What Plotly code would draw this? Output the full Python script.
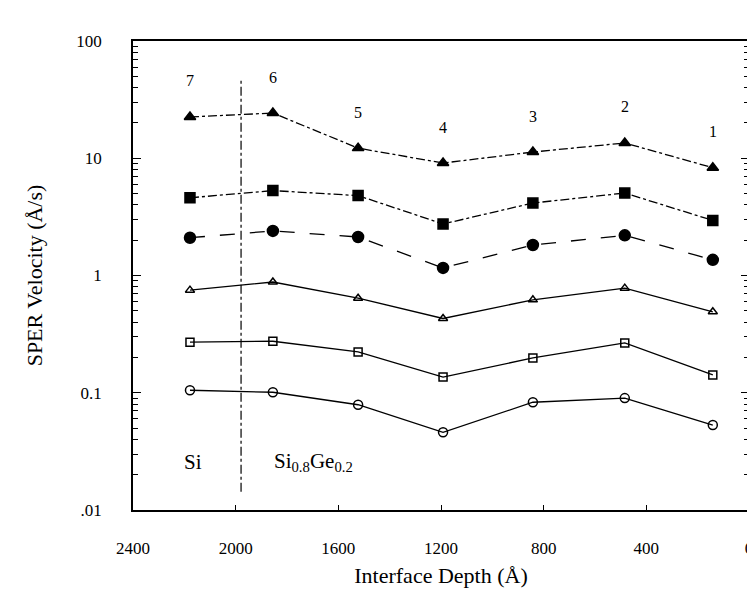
import math

import plotly.graph_objects as go

# interface depth (Angstrom) of each sample
depth = [2178, 1855, 1523, 1192, 842, 484, 141]
sample_labels = ["7", "6", "5", "4", "3", "2", "1"]

# SPER velocity (A/s), one list per series
vel_tri_filled = [22.5, 24.3, 12.2, 9.1, 11.3, 13.5, 8.3]
vel_sq_filled = [4.6, 5.3, 4.8, 2.75, 4.15, 5.05, 2.95]
vel_circ_filled = [2.1, 2.4, 2.13, 1.16, 1.82, 2.2, 1.36]
vel_tri_open = [0.75, 0.88, 0.64, 0.43, 0.62, 0.78, 0.49]
vel_sq_open = [0.27, 0.275, 0.223, 0.136, 0.198, 0.266, 0.142]
vel_circ_open = [0.105, 0.101, 0.079, 0.046, 0.083, 0.09, 0.053]

x_ticks = [2400, 2000, 1600, 1200, 800, 400, 0]
y_ticks = [0.01, 0.1, 1, 10, 100]
y_tick_text = [".01", "0.1", "1", "10", "100"]
boundary_depth = 1979

FONT = "Liberation Serif"

series = [
    (vel_tri_filled, "triangle-up", 10, "dashdot"),
    (vel_sq_filled, "square", 10, "dashdot"),
    (vel_circ_filled, "circle", 11, "longdash"),
    (vel_tri_open, "triangle-up-open", 8, "solid"),
    (vel_sq_open, "square-open", 8, "solid"),
    (vel_circ_open, "circle-open", 9, "solid"),
]

fig = go.Figure()
for vals, sym, size, dash in series:
    fig.add_trace(
        go.Scatter(
            x=depth,
            y=vals,
            mode="lines+markers",
            line=dict(color="black", width=1.3, dash=dash),
            marker=dict(symbol=sym, size=size, color="black",
                        line=dict(color="black", width=1.5)),
            showlegend=False,
        )
    )

# sample numbers above the top series
for d, v, lab in zip(depth, vel_tri_filled, sample_labels):
    fig.add_annotation(x=d, y=math.log10(v), yshift=36, text=lab,
                       showarrow=False,
                       font=dict(family=FONT, size=16, color="black"))

# Si / SiGe boundary
fig.add_shape(type="line", x0=boundary_depth, x1=boundary_depth,
              y0=0.0143, y1=46, xref="x", yref="y",
              line=dict(color="black", width=1.2, dash="dashdot"))

fig.add_annotation(x=2165, y=-1.59, text="Si", showarrow=False,
                   font=dict(family=FONT, size=21, color="black"))
fig.add_annotation(x=1860, y=-1.59, text="Si<sub>0.8</sub>Ge<sub>0.2</sub>",
                   xanchor="left", showarrow=False,
                   font=dict(family=FONT, size=21, color="black"))

minor_vals = [m * 10 ** e for e in range(-2, 2) for m in range(2, 10)]

fig.update_xaxes(
    range=[2400, 0],
    tickvals=x_ticks,
    ticktext=[str(t) for t in x_ticks],
    ticks="inside", ticklen=5, tickcolor="black",
    showline=True, linecolor="black", linewidth=1.5, mirror=True,
    showgrid=False, zeroline=False, automargin=False,
    tickfont=dict(family=FONT, size=17, color="black"),
    ticklabelstandoff=22, ticklabeloverflow="allow",
    title=dict(text="Interface Depth (Å)", standoff=10,
               font=dict(family=FONT, size=22, color="black")),
)
fig.update_yaxes(
    type="log",
    range=[-2, 2],
    tickvals=y_ticks,
    ticktext=y_tick_text,
    ticks="inside", ticklen=8, tickcolor="black",
    minor=dict(tickvals=minor_vals, ticks="inside", ticklen=5,
               tickcolor="black", showgrid=False),
    showline=True, linecolor="black", linewidth=1.5, mirror="ticks",
    showgrid=False, zeroline=False, automargin=False,
    tickfont=dict(family=FONT, size=17, color="black"),
    ticklabelstandoff=26,
    title=dict(text="SPER Velocity (Å/s)", standoff=28,
               font=dict(family=FONT, size=22, color="black")),
)

# page has an 8px body margin, so the figure is a bit smaller than the window
fig.update_layout(
    width=747, height=592,
    margin=dict(l=125, r=6, t=33, b=90),
    plot_bgcolor="white", paper_bgcolor="white",
)

fig.write_html("out.html")
